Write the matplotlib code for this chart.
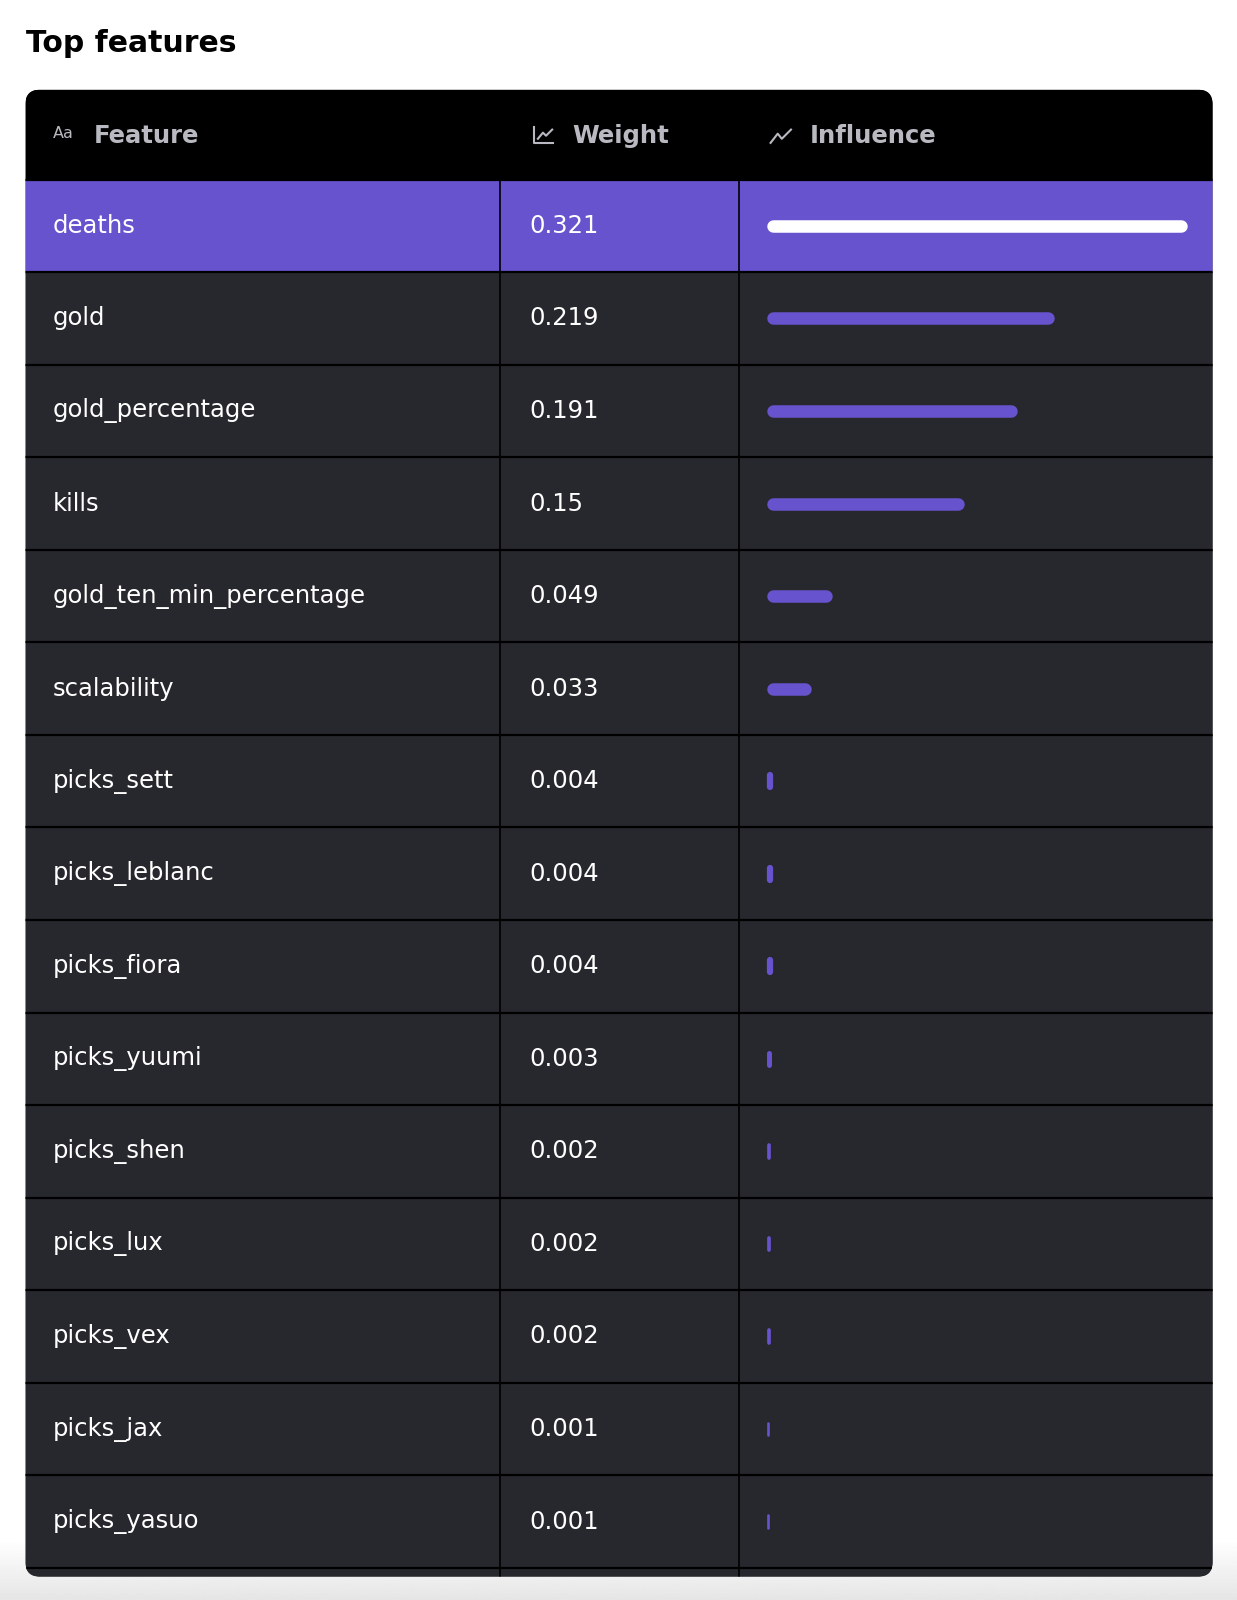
import matplotlib
matplotlib.use("Agg")
import matplotlib.pyplot as plt
from matplotlib.patches import FancyBboxPatch, Rectangle
import numpy as np

features = ["deaths", "gold", "gold_percentage", "kills", "gold_ten_min_percentage",
            "scalability", "picks_sett", "picks_leblanc", "picks_fiora", "picks_yuumi",
            "picks_shen", "picks_lux", "picks_vex", "picks_jax", "picks_yasuo"]
weights = [0.321, 0.219, 0.191, 0.15, 0.049, 0.033, 0.004, 0.004, 0.004, 0.003,
           0.002, 0.002, 0.002, 0.001, 0.001]
headers = ["Feature", "Weight", "Influence"]

W, H = 1212, 1568
fig = plt.figure(figsize=(12.37, 16), dpi=100)
ax = fig.add_axes([0, 0, 1, 1])
ax.set_xlim(0, W); ax.set_ylim(H, 0); ax.axis("off")

grad = np.linspace(1, 0.9, 60).reshape(-1, 1)
ax.imshow(grad, extent=[0, W, H, 1510], cmap="gray", vmin=0, vmax=1, aspect="auto", zorder=0)
ax.add_patch(Rectangle((0, 0), W, 1510, color="white", zorder=0))

ax.text(25, 43, "Top features", fontsize=21.5, fontweight="bold", color="black",
        va="center", ha="left", family="DejaVu Sans")

L, R, T, B = 25, 1188, 88, 1545
clip = FancyBboxPatch((L, T), R-L, B-T, boxstyle="round,pad=0,rounding_size=14",
                      facecolor="#27282d", edgecolor="none", zorder=1)
ax.add_patch(clip)

hdr_b = 176
rh = 90.7
c1, c2 = 490, 724
dark, purple = "#27282d", "#6853cf"

def add(p):
    p.set_clip_path(clip)
    return p

add(ax.add_patch(Rectangle((L, T), R-L, hdr_b-T, color="black", zorder=2)))
nrows = len(features) + 1
for i in range(nrows):
    y0 = hdr_b + i*rh
    col = purple if i == 0 else dark
    add(ax.add_patch(Rectangle((L, y0), R-L, rh, color=col, zorder=2)))
    add(ax.add_line(plt.Line2D([L, R], [y0, y0], color="black", lw=1.6, zorder=3)))
for cx in (c1, c2):
    add(ax.add_line(plt.Line2D([cx, cx], [hdr_b, B], color="black", lw=1.2, zorder=3)))

hc = "#b9b9c2"
hy = 133
fs = 17.5
ax.text(52, hy-2, "Aa", fontsize=11.5, color=hc, va="center", ha="left", zorder=4)
ax.text(92, hy, headers[0], fontsize=fs, fontweight="bold", color=hc, va="center", zorder=4)
ax.plot([523, 523, 542], [124, 140, 140], color=hc, lw=1.5, zorder=4)
ax.plot([527, 532, 535, 541], [136, 130, 133, 127], color=hc, lw=1.5, zorder=4)
ax.text(561, hy, headers[1], fontsize=fs, fontweight="bold", color=hc, va="center", zorder=4)
ax.plot([755, 762, 766, 775], [140, 131, 136, 127], color=hc, lw=1.5, zorder=4)
ax.text(793, hy, headers[2], fontsize=fs, fontweight="bold", color=hc, va="center", zorder=4)

x0 = 752
scale = 410 / max(weights)
for i, (f, w) in enumerate(zip(features, weights)):
    yc = hdr_b + i*rh + rh/2
    ax.text(52, yc, f, fontsize=fs, color="white", va="center", ha="left", zorder=4)
    ax.text(519, yc, f"{w:g}", fontsize=fs, color="white", va="center", ha="left", zorder=4)
    length = w * scale
    bc = "white" if i == 0 else purple
    if length > 8:
        ax.plot([x0 + 5, x0 + length - 5], [yc, yc], color=bc, lw=9,
                solid_capstyle="round", zorder=4)
    else:
        lw = max(1.5, length)
        ax.plot([x0 + lw/2, x0 + lw/2], [yc - 6, yc + 6], color=bc, lw=lw*0.72+0.8,
                solid_capstyle="round", zorder=4)

fig.savefig("out.png", dpi=100)
